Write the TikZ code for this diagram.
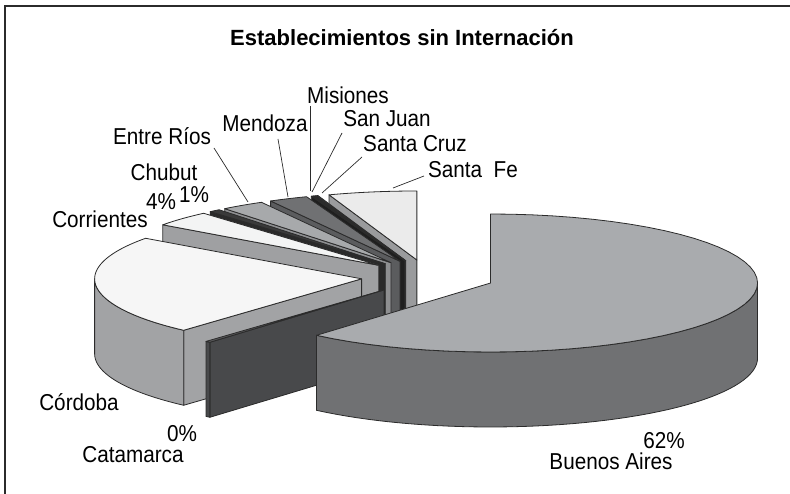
\documentclass[tikz,border=0pt]{standalone}
\usepackage{fontspec}
\setmainfont{Liberation Sans}
\newfontfamily\labelfont[FakeStretch=0.9]{Liberation Sans}

\definecolor{edgegray}{HTML}{2B2B2B}
\definecolor{sfetop}{HTML}{EBEBEB}   \definecolor{sfeside}{HTML}{9A9B9D}
\definecolor{scrtop}{HTML}{3C3C3C}   \definecolor{scrside}{HTML}{2E2E2E}
\definecolor{sjutop}{HTML}{6E6F71}   \definecolor{sjuside}{HTML}{555658}
\definecolor{mistop}{HTML}{2A2A2A}   \definecolor{misside}{HTML}{1F1F1F}
\definecolor{mdztop}{HTML}{707173}   \definecolor{mdzside}{HTML}{5B5C5E}
\definecolor{ertop}{HTML}{A7A9AB}    \definecolor{erside}{HTML}{8E8F91}
\definecolor{chutop}{HTML}{3A3A3A}   \definecolor{chuside}{HTML}{2A2A2A}
\definecolor{crrtop}{HTML}{F3F4F4}   \definecolor{crrside}{HTML}{9FA0A2}
\definecolor{cbatop}{HTML}{F6F6F6}   \definecolor{cbaside}{HTML}{A2A3A5}
\definecolor{cattop}{HTML}{5A5A5C}   \definecolor{catside}{HTML}{48494B}
\definecolor{batop}{HTML}{A9ABAE}    \definecolor{baside}{HTML}{707173}

% #1 start angle, #2 end angle (#1 > #2), #3 top colour, #4 side colour
\newcommand{\pieslice}[4]{%
  \pgfmathsetmacro{\pbis}{(#1+#2)/2}%
  \pgfmathsetmacro{\pcx}{428+0.25*267*cos(\pbis)}%
  \pgfmathsetmacro{\pcy}{277-0.25*69*sin(\pbis)}%
  \pgfmathsetmacro{\wlo}{max(#2,180)}%
  \pgfmathsetmacro{\whi}{min(#1,360)}%
  \pgfmathtruncatemacro{\showcut}{cos(#1)<-0.01}%
  \pgfmathtruncatemacro{\showwall}{\whi>\wlo}%
  \ifnum\showcut=1
    \filldraw[slicefill, fill=#4] (\pcx,\pcy) -- ({\pcx+267*cos(#1)},{\pcy-69*sin(#1)})
      -- ++(0,75) -- (\pcx,\pcy+75) -- cycle;
  \fi
  \ifnum\showwall=1
    \filldraw[slicefill, fill=#4]
      plot[domain=\wlo:\whi, samples=50] ({\pcx+267*cos(\x)},{\pcy-69*sin(\x)})
      -- plot[domain=\whi:\wlo, samples=50] ({\pcx+267*cos(\x)},{\pcy-69*sin(\x)+75}) -- cycle;
  \fi
  \filldraw[slicefill, fill=#3] (\pcx,\pcy)
    -- plot[domain=#1:#2, samples=50] ({\pcx+267*cos(\x)},{\pcy-69*sin(\x)}) -- cycle;
}

\begin{document}
\begin{tikzpicture}[x=1pt, y=-1pt,
slicefill/.style={draw=edgegray, line width=0.8pt, line join=round},
label/.style={anchor=base, inner sep=0pt, font=\labelfont\fontsize{23}{23}\selectfont},
leader/.style={draw=edgegray, line width=0.7pt},
]
\useasboundingbox (0,0) rectangle (790,494);
\draw[edgegray, line width=1.2pt] (5,494) -- (5,6) -- (790,6);

%Title
\node[anchor=base, inner sep=0pt, font=\bfseries\fontsize{22}{22}\selectfont] (title) at (402,46) {Establecimientos sin Internación};

%Slices (back to front)
\pieslice{109.2}{90}{sfetop}{sfeside}
\pieslice{109.7}{109.2}{scrtop}{scrside}
\pieslice{110.1}{109.7}{sjutop}{sjuside}
\pieslice{110.5}{110.1}{mistop}{misside}
\pieslice{119}{110.5}{mdztop}{mdzside}
\pieslice{128.5}{119}{ertop}{erside}
\pieslice{131}{128.5}{chutop}{chuside}
\pieslice{144}{131}{crrtop}{crrside}
\pieslice{228.2}{144}{cbatop}{cbaside}
\pieslice{229.3}{228.2}{cattop}{catside}
\pieslice{450}{229.3}{batop}{baside}

%Labels
\node[label] (misiones)    at (348,104) {Misiones};
\node[label] (sanjuan)     at (387,127) {San Juan};
\node[label] (mendoza)     at (265,132) {Mendoza};
\node[label] (entrerios)   at (162,145) {Entre Ríos};
\node[label] (santacruz)   at (415,152) {Santa Cruz};
\node[label] (chubut)      at (164,181) {Chubut};
\node[label] (santafe)     at (473,178) {Santa\ \ Fe};
\node[label] (pctchubut)   at (194,203) {1\%};
\node[label] (pctcorr)     at (161,210) {4\%};
\node[label] (corrientes)  at (100,228) {Corrientes};
\node[label] (cordoba)     at (79,410)  {Córdoba};
\node[label] (pctcat)      at (182,441) {0\%};
\node[label] (catamarca)   at (133,462) {Catamarca};
\node[label] (pctba)       at (664,448) {62\%};
\node[label] (buenosaires) at (611,469) {Buenos Aires};

%Lines
\coordinate (er-a)  at (214,148); \coordinate (er-b)  at (248,202);
\coordinate (mdz-a) at (278,139); \coordinate (mdz-b) at (288,197);
\coordinate (mis-a) at (310,106); \coordinate (mis-b) at (310,191);
\coordinate (sju-a) at (342,133); \coordinate (sju-b) at (312,192);
\coordinate (scr-a) at (362,157); \coordinate (scr-b) at (322,193);
\coordinate (sfe-a) at (424,176); \coordinate (sfe-b) at (393,188);
\draw[leader] (er-a) -- (er-b);
\draw[leader] (mdz-a) -- (mdz-b);
\draw[leader] (mis-a) -- (mis-b);
\draw[leader] (sju-a) -- (sju-b);
\draw[leader] (scr-a) -- (scr-b);
\draw[leader] (sfe-a) -- (sfe-b);

\end{tikzpicture}
\end{document}
